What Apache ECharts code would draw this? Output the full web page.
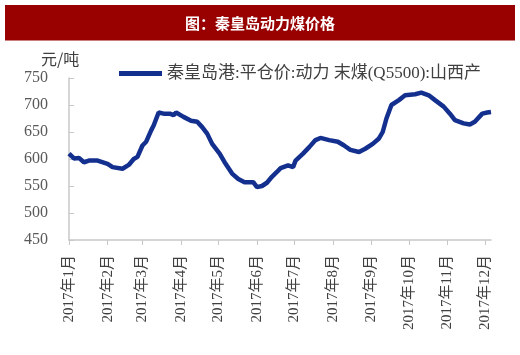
<!DOCTYPE html>
<html>
<head>
<meta charset="utf-8">
<script src="https://cdn.jsdelivr.net/npm/echarts@6/dist/echarts.min.js"></script>
<style>html,body{margin:0;padding:0;background:#fff}#c{width:520px;height:355px}</style>
</head>
<body>
<div id="c"></div>
<script>
const titleText = '图：秦皇岛动力煤价格';
const unitText = '元/吨';
const seriesName = '秦皇岛港:平仓价:动力 末煤(Q5500):山西产';
const dates = ['2017-01-01','2017-01-05','2017-01-09','2017-01-13','2017-01-17','2017-01-24','2017-02-01','2017-02-05','2017-02-13','2017-02-18','2017-02-22','2017-02-25','2017-03-01','2017-03-04','2017-03-08','2017-03-10','2017-03-14','2017-03-18','2017-03-23','2017-03-26','2017-03-28','2017-04-03','2017-04-09','2017-04-14','2017-04-18','2017-04-22','2017-04-26','2017-05-02','2017-05-06','2017-05-12','2017-05-17','2017-05-22','2017-05-29','2017-06-01','2017-06-05','2017-06-09','2017-06-13','2017-06-17','2017-06-20','2017-06-26','2017-06-30','2017-07-02','2017-07-08','2017-07-13','2017-07-18','2017-07-22','2017-07-29','2017-08-05','2017-08-10','2017-08-15','2017-08-22','2017-08-27','2017-09-02','2017-09-07','2017-09-10','2017-09-13','2017-09-17','2017-09-23','2017-09-28','2017-10-06','2017-10-11','2017-10-17','2017-10-22','2017-10-29','2017-11-03','2017-11-07','2017-11-14','2017-11-19','2017-11-23','2017-11-29','2017-12-03','2017-12-06'];
const prices = [610,601,602,594,597,597,591,585,582,589,600,604,625,632,653,662,686,684,684,681,686,678,671,669,659,647,628,610,594,573,563,557,557,548,550,556,567,576,583,588,585,597,610,622,635,639,635,632,625,617,613,619,628,638,650,675,700,709,718,720,723,718,709,697,684,672,666,664,669,684,686,687];
const monthStarts = ['2017-01-01','2017-02-01','2017-03-01','2017-04-01','2017-05-01','2017-06-01','2017-07-01','2017-08-01','2017-09-01','2017-10-01','2017-11-01','2017-12-01'];
const monthLabels = ['2017年1月','2017年2月','2017年3月','2017年4月','2017年5月','2017年6月','2017年7月','2017年8月','2017年9月','2017年10月','2017年11月','2017年12月'];
const yTicks = [450,500,550,600,650,700,750];
const axisStart = '2017-01-01', axisEnd = '2017-12-06';

function dayOf(s){const p=s.split('-');return Math.round((Date.UTC(+p[0],+p[1]-1,+p[2])-Date.UTC(2017,0,1))/86400000);}
const tickVals = monthStarts.map(dayOf);
const data = dates.map((d,i)=>[dayOf(d),prices[i]]);

const chart = echarts.init(document.getElementById('c'), null, {renderer:'canvas'});
const serif = '"Liberation Serif","Noto Sans CJK SC",serif';
chart.setOption({
  animation:false,
  backgroundColor:'#fff',
  graphic:[
    {type:'rect',shape:{x:5,y:5,width:510,height:35.5},style:{fill:'#990000'},silent:true},
    {type:'text',x:260,y:23,style:{text:titleText,fill:'#fff',font:'bold 15px "Noto Sans CJK SC",sans-serif',align:'center',verticalAlign:'middle'}},
    {type:'text',x:41,y:59,style:{text:unitText,fill:'#404040',font:'16px "Noto Sans CJK SC",serif',verticalAlign:'middle'}}
  ],
  legend:{
    left:114, top:60,
    itemWidth:43, itemHeight:5, itemGap:5,
    icon:'rect',
    textStyle:{fontFamily:serif,fontSize:17,color:'#404040'},
    data:[seriesName]
  },
  grid:{left:69,right:29,top:78,bottom:115,containLabel:false},
  xAxis:{
    type:'value',
    min:dayOf(axisStart), max:dayOf(axisEnd),
    axisLine:{lineStyle:{color:'#c8c8c8',width:1.5}},
    axisTick:{show:true,length:5,lineStyle:{color:'#c8c8c8'},customValues:tickVals},
    axisLabel:{
      customValues:tickVals,
      rotate:90, margin:15,
      fontFamily:serif, fontSize:15, color:'#404040',
      formatter:function(v){const i=tickVals.indexOf(v);return i>=0?monthLabels[i]:'';}
    },
    splitLine:{show:false}
  },
  yAxis:{
    type:'value', min:450, max:750, interval:50,
    axisLine:{show:true,lineStyle:{color:'#c8c8c8',width:1.5}},
    axisTick:{show:true,inside:true,length:5,lineStyle:{color:'#c8c8c8'}},
    axisLabel:{margin:21,fontFamily:serif,fontSize:16,color:'#595959',
      formatter:function(v){return yTicks.indexOf(v)>=0?String(v):'';}},
    splitLine:{show:false}
  },
  series:[{
    name:seriesName,
    type:'line',
    data:data,
    showSymbol:false,
    symbol:'none',
    lineStyle:{color:'#14308f',width:4.5},
    itemStyle:{color:'#14308f'}
  }]
});
</script>
</body>
</html>
